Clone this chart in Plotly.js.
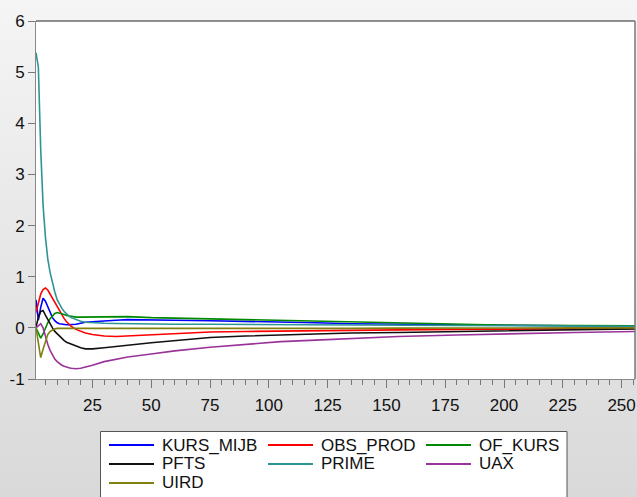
<!DOCTYPE html>
<html>
<head>
<meta charset="utf-8">
<script src="https://cdn.plot.ly/plotly-3.0.1.min.js"></script>
<style>
  html, body { margin: 0; padding: 0; }
  #chart { width: 637px; height: 497px; background: linear-gradient(#f5f5f5, #d9d9d9); }
</style>
</head>
<body>
<div id="chart"></div>
<script>
// Response periods (horizon) at which each series is sampled
const periods = [1, 2, 3, 4, 5, 6, 7, 8, 9, 10, 11, 12, 13, 14, 15, 16, 18, 20, 22, 25,
                 30, 35, 40, 50, 60, 75, 90, 105, 120, 135, 155, 180, 205, 230, 256];

const kursMijb = [0.55, 0.15, 0.40, 0.58, 0.52, 0.42, 0.30, 0.20, 0.14, 0.10, 0.08, 0.07, 0.06, 0.06, 0.06, 0.06,
                  0.07, 0.09, 0.11, 0.12, 0.14, 0.15, 0.16, 0.16, 0.15, 0.14, 0.13, 0.11, 0.10, 0.08, 0.07, 0.06, 0.05, 0.04, 0.03];
const obsProd  = [0.30, 0.50, 0.66, 0.75, 0.78, 0.74, 0.66, 0.58, 0.50, 0.42, 0.33, 0.24, 0.18, 0.12, 0.07, 0.03,
                  -0.03, -0.07, -0.10, -0.13, -0.16, -0.17, -0.16, -0.13, -0.11, -0.08, -0.07, -0.06, -0.05, -0.045, -0.04, -0.03, -0.02, -0.015, -0.01];
const ofKurs   = [0.00, -0.12, -0.20, -0.12, 0.00, 0.10, 0.18, 0.24, 0.28, 0.30, 0.29, 0.28, 0.26, 0.24, 0.23, 0.22,
                  0.21, 0.21, 0.21, 0.22, 0.22, 0.22, 0.22, 0.20, 0.19, 0.17, 0.16, 0.14, 0.13, 0.12, 0.09, 0.07, 0.05, 0.045, 0.04];
const pfts     = [0.02, 0.20, 0.32, 0.34, 0.25, 0.16, 0.08, 0.00, -0.07, -0.12, -0.17, -0.21, -0.25, -0.28, -0.30, -0.32,
                  -0.36, -0.39, -0.41, -0.41, -0.39, -0.36, -0.34, -0.29, -0.25, -0.19, -0.16, -0.14, -0.12, -0.10, -0.09, -0.07, -0.05, -0.03, -0.02];
const prime    = [5.38, 5.10, 3.50, 2.40, 1.78, 1.35, 1.08, 0.87, 0.70, 0.55, 0.45, 0.38, 0.32, 0.27, 0.23, 0.20,
                  0.16, 0.13, 0.11, 0.10, 0.09, 0.085, 0.08, 0.075, 0.07, 0.07, 0.065, 0.06, 0.06, 0.055, 0.05, 0.045, 0.04, 0.035, 0.03];
const uax      = [0.00, 0.05, 0.08, 0.00, -0.18, -0.32, -0.44, -0.54, -0.61, -0.66, -0.70, -0.73, -0.75, -0.77, -0.78, -0.79,
                  -0.80, -0.79, -0.77, -0.73, -0.66, -0.61, -0.57, -0.51, -0.45, -0.38, -0.32, -0.27, -0.24, -0.21, -0.17, -0.14, -0.11, -0.09, -0.07];
const uird     = [0.00, -0.30, -0.58, -0.42, -0.25, -0.13, -0.07, -0.04, -0.02, -0.01, -0.01, -0.01, -0.015, -0.02, -0.02, -0.02,
                  -0.02, -0.02, -0.02, -0.02, -0.02, -0.02, -0.02, -0.02, -0.02, -0.02, -0.015, -0.01, -0.01, -0.01, -0.005, 0.0, 0.0, 0.0, 0.0];

const seriesNames  = ['KURS_MIJB', 'OBS_PROD', 'OF_KURS', 'PFTS', 'PRIME', 'UAX', 'UIRD'];
const seriesValues = [kursMijb, obsProd, ofKurs, pfts, prime, uax, uird];
const seriesColors = ['#0000ff', '#ff0000', '#008800', '#111111', '#2e9595', '#993399', '#808010'];

// Y-axis ticks, written with a plain hyphen for the negative value
const yTickValues = [-1, 0, 1, 2, 3, 4, 5, 6];
const yTickLabels = ['-1', '0', '1', '2', '3', '4', '5', '6'];

const FONT = 'Arial, "Liberation Sans", sans-serif';

const traces = seriesNames.map((name, i) => ({
  type: 'scatter',
  mode: 'lines',
  name: name,
  x: periods,
  y: seriesValues[i],
  line: { color: seriesColors[i], width: 1.6 },
  hoverinfo: 'skip',
  showlegend: false
}));

// Plot-area geometry in pixels, used to place the legend box below the axes
const plotL = 36, plotT = 21, plotW = 599, plotH = 358;
const paperX = px => (px - plotL) / plotW;
const paperY = py => (plotT + plotH - py) / plotH;

const shapes = [
  // frame: dark top edge, grey right edge
  { type: 'line', xref: 'paper', yref: 'paper', x0: 0, x1: 1, y0: 1, y1: 1,
    line: { color: '#222222', width: 1 } },
  { type: 'line', xref: 'paper', yref: 'paper', x0: 1, x1: 1, y0: 0, y1: 1,
    line: { color: '#777777', width: 1.5 } },
  // legend box
  { type: 'rect', xref: 'paper', yref: 'paper', layer: 'above',
    x0: paperX(100.5), x1: paperX(567), y0: paperY(431.5), y1: paperY(505),
    fillcolor: '#ffffff', line: { color: '#555555', width: 1 } }
];
const annotations = [];

const legendCols = [109, 268, 426];
const legendRows = [445, 464, 483];
const sampleLen = 45;
seriesNames.forEach((name, i) => {
  const cx = legendCols[i % 3];
  const ry = legendRows[Math.floor(i / 3)];
  shapes.push({ type: 'line', xref: 'paper', yref: 'paper', layer: 'above',
    x0: paperX(cx), x1: paperX(cx + sampleLen), y0: paperY(ry), y1: paperY(ry),
    line: { color: seriesColors[i], width: 2 } });
  annotations.push({ xref: 'paper', yref: 'paper', x: paperX(cx + sampleLen + 6), y: paperY(ry),
    xanchor: 'left', yanchor: 'middle', showarrow: false, text: name,
    font: { family: FONT, size: 17, color: '#111111' } });
});

const layout = {
  width: 637,
  height: 497,
  margin: { l: plotL, r: 637 - plotL - plotW, t: plotT, b: 497 - plotT - plotH, pad: 0 },
  paper_bgcolor: 'rgba(0,0,0,0)',
  plot_bgcolor: '#ffffff',
  font: { family: FONT, size: 17, color: '#111111' },
  showlegend: false,
  xaxis: {
    range: [1, 255.7],
    tick0: 0, dtick: 25,
    ticks: 'outside', ticklen: 8, tickwidth: 1, tickcolor: '#777777',
    minor: { tick0: 0, dtick: 5, ticks: 'outside', ticklen: 5, tickwidth: 1, tickcolor: '#777777', showgrid: false },
    showline: true, linecolor: '#888888', linewidth: 1,
    showgrid: false, zeroline: false,
    ticklabelstandoff: 3,
    tickfont: { family: FONT, size: 17, color: '#111111' }
  },
  yaxis: {
    range: [-1, 6],
    tickmode: 'array', tickvals: yTickValues, ticktext: yTickLabels,
    ticks: 'outside', ticklen: 7, tickwidth: 1, tickcolor: '#777777',
    showline: true, linecolor: '#888888', linewidth: 1,
    showgrid: false, zeroline: false,
    tickfont: { family: FONT, size: 17, color: '#111111' }
  },
  shapes: shapes,
  annotations: annotations
};

Plotly.newPlot('chart', traces, layout, { displayModeBar: false, staticPlot: true });
</script>
</body>
</html>
